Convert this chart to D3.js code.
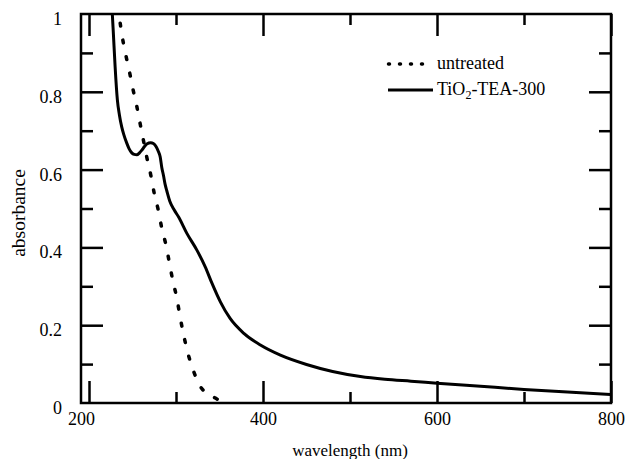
<!DOCTYPE html>
<html>
<head>
<meta charset="utf-8">
<script src="https://cdn.jsdelivr.net/npm/d3@7"></script>
<style>
  body { margin: 0; background: #fff; }
  text { font-family: 'Liberation Serif', 'Times New Roman', serif; fill: #000; }
</style>
</head>
<body>
<div id="chart"></div>
<script>
// Series
const untreatedWl = [233.5, 234.9, 237.6, 241.5, 246.1, 250.3, 254.9, 258.7, 262.5, 266.4, 271, 274.9, 279.8, 283.7, 288.7, 292.5, 296.4, 301, 304.5, 308.6, 313.2, 319.4, 327, 334, 342.5, 350, 358.6, 362];
const untreatedAbs = [1.02, 0.993, 0.95, 0.903, 0.856, 0.809, 0.763, 0.719, 0.676, 0.632, 0.586, 0.54, 0.494, 0.449, 0.404, 0.359, 0.314, 0.269, 0.224, 0.177, 0.132, 0.087, 0.046, 0.027, 0.016, 0.007, 0.003, 0];

const teaWl = [225, 226.8, 228, 230, 232.6, 235, 237.6, 240, 243.4, 246, 249.2, 252, 254.9, 258, 260.7, 264, 266.4, 271, 274, 277.2, 279.5, 281.8, 283.7, 285.6, 287.5, 289.5, 293, 298, 303, 312.5, 324, 333.6, 341.3, 351, 362, 378, 397, 420, 450, 480, 512, 540, 570, 600, 650, 700, 750, 800];
const teaAbs = [1.06, 1.0, 0.95, 0.865, 0.779, 0.74, 0.71, 0.69, 0.668, 0.654, 0.643, 0.639, 0.638, 0.643, 0.65, 0.66, 0.666, 0.669, 0.667, 0.659, 0.648, 0.633, 0.605, 0.585, 0.562, 0.545, 0.518, 0.496, 0.478, 0.436, 0.393, 0.35, 0.308, 0.26, 0.218, 0.179, 0.149, 0.123, 0.099, 0.081, 0.068, 0.061, 0.056, 0.051, 0.043, 0.035, 0.028, 0.022];

// Axis ticks and labels
const xMajorTicks = [200, 400, 600, 800];
const xMinorTicks = [300, 500, 700];
const yMajorTicks = [0, 0.2, 0.4, 0.6, 0.8, 1];
const yMinorTicks = [0.1, 0.3, 0.5, 0.7, 0.9];
const yTickLabels = ['0', '0.2', '0.4', '0.6', '0.8', '1'];
const legendLabels = ['untreated', 'TiO2-TEA-300'];

const margin = { top: 14, right: 14, bottom: 56, left: 81 };
const width = 625 - margin.left - margin.right;
const height = 459 - margin.top - margin.bottom;

const svg = d3
  .select('#chart')
  .append('svg')
  .attr('width', width + margin.left + margin.right)
  .attr('height', height + margin.top + margin.bottom)
  .append('g')
  .attr('transform', `translate(${margin.left},${margin.top})`);

const x = d3.scaleLinear().domain([190.8, 800]).range([0, width]);
const y = d3.scaleLinear().domain([0, 1]).range([height, 0]);

// ticks on all four sides, pointing inward
function tickAxis(axis, values, size, transform) {
  const g = svg
    .append('g')
    .attr('transform', transform)
    .call(axis.tickValues(values).tickSizeInner(-size).tickSizeOuter(0).tickFormat(''));
  g.select('.domain').remove();
  g.selectAll('.tick line').attr('stroke', '#000').attr('stroke-width', 2.5);
  return g;
}

tickAxis(d3.axisBottom(x), xMinorTicks, 11, `translate(0,${height})`);
tickAxis(d3.axisTop(x), xMinorTicks, 11, 'translate(0,0)');
tickAxis(d3.axisTop(x), xMajorTicks, 22, 'translate(0,0)');
tickAxis(d3.axisLeft(y), yMinorTicks, 12, 'translate(0,0)');
tickAxis(d3.axisRight(y), yMinorTicks, 12, `translate(${width},0)`);
tickAxis(d3.axisRight(y), yMajorTicks.slice(1, -1), 22, `translate(${width},0)`);

// bottom axis with labels
const xAxis = svg
  .append('g')
  .attr('transform', `translate(0,${height})`)
  .call(d3.axisBottom(x).tickValues(xMajorTicks).tickSizeInner(-22).tickSizeOuter(0).tickFormat(d3.format('d')));
xAxis.select('.domain').remove();
xAxis.selectAll('.tick line').attr('stroke', '#000').attr('stroke-width', 2.5);
xAxis
  .selectAll('.tick text')
  .attr('y', 22)
  .attr('dy', 0)
  .attr('x', (d) => (d === 200 ? -8 : 0))
  .style('font-size', '18px')
  .style('font-family', "'Liberation Serif', serif");

// left axis with labels
const yAxis = svg
  .append('g')
  .call(d3.axisLeft(y).tickValues(yMajorTicks).tickSizeInner(-22).tickSizeOuter(0).tickPadding(19)
    .tickFormat((d, i) => yTickLabels[i]));
yAxis.select('.domain').remove();
yAxis.selectAll('.tick line').attr('stroke', '#000').attr('stroke-width', (d) => (d === 0 || d === 1 ? 0 : 2.5));
yAxis
  .selectAll('.tick text')
  .attr('dy', 10.5)
  .style('font-size', '18px')
  .style('font-family', "'Liberation Serif', serif");

// frame
svg
  .append('rect')
  .attr('width', width)
  .attr('height', height)
  .attr('fill', 'none')
  .attr('stroke', '#000')
  .attr('stroke-width', 2.5);

// curves, clipped to the plot area
svg.append('clipPath').attr('id', 'clip').append('rect').attr('width', width).attr('height', height);

const line = d3
  .line()
  .x((d) => x(d[0]))
  .y((d) => y(d[1]))
  .curve(d3.curveMonotoneX);

svg
  .append('path')
  .datum(untreatedWl.map((w, i) => [w, untreatedAbs[i]]))
  .attr('clip-path', 'url(#clip)')
  .attr('d', line)
  .attr('fill', 'none')
  .attr('stroke', '#000')
  .attr('stroke-width', 3.5)
  .attr('stroke-linecap', 'round')
  .attr('stroke-dasharray', '3,14');

svg
  .append('path')
  .datum(teaWl.map((w, i) => [w, teaAbs[i]]))
  .attr('clip-path', 'url(#clip)')
  .attr('d', line)
  .attr('fill', 'none')
  .attr('stroke', '#000')
  .attr('stroke-width', 3);

// axis titles
svg
  .append('text')
  .attr('x', 269)
  .attr('y', height + 53)
  .attr('text-anchor', 'middle')
  .style('font-size', '17px')
  .text('wavelength (nm)');

svg
  .append('text')
  .attr('transform', 'rotate(-90)')
  .attr('x', -199)
  .attr('y', -56)
  .attr('text-anchor', 'middle')
  .style('font-size', '19.5px')
  .text('absorbance');

// legend
const legend = svg.append('g').attr('transform', 'translate(307,50)');
legend
  .append('line')
  .attr('x1', 0.5).attr('x2', 44)
  .attr('stroke', '#000')
  .attr('stroke-width', 3.5)
  .attr('stroke-linecap', 'round')
  .attr('stroke-dasharray', '1,10');
legend.append('text').attr('x', 49).attr('y', 5).style('font-size', '18px').text(legendLabels[0]);

legend
  .append('line')
  .attr('x1', 0).attr('x2', 45)
  .attr('y1', 26).attr('y2', 26)
  .attr('stroke', '#000')
  .attr('stroke-width', 3);
const lab = legend.append('text').attr('x', 49).attr('y', 31).style('font-size', '18px');
lab.append('tspan').text(legendLabels[1].slice(0, 3));
lab.append('tspan').attr('dy', 4).style('font-size', '12px').text(legendLabels[1].slice(3, 4));
lab.append('tspan').attr('dy', -4).text(legendLabels[1].slice(4));
</script>
</body>
</html>
